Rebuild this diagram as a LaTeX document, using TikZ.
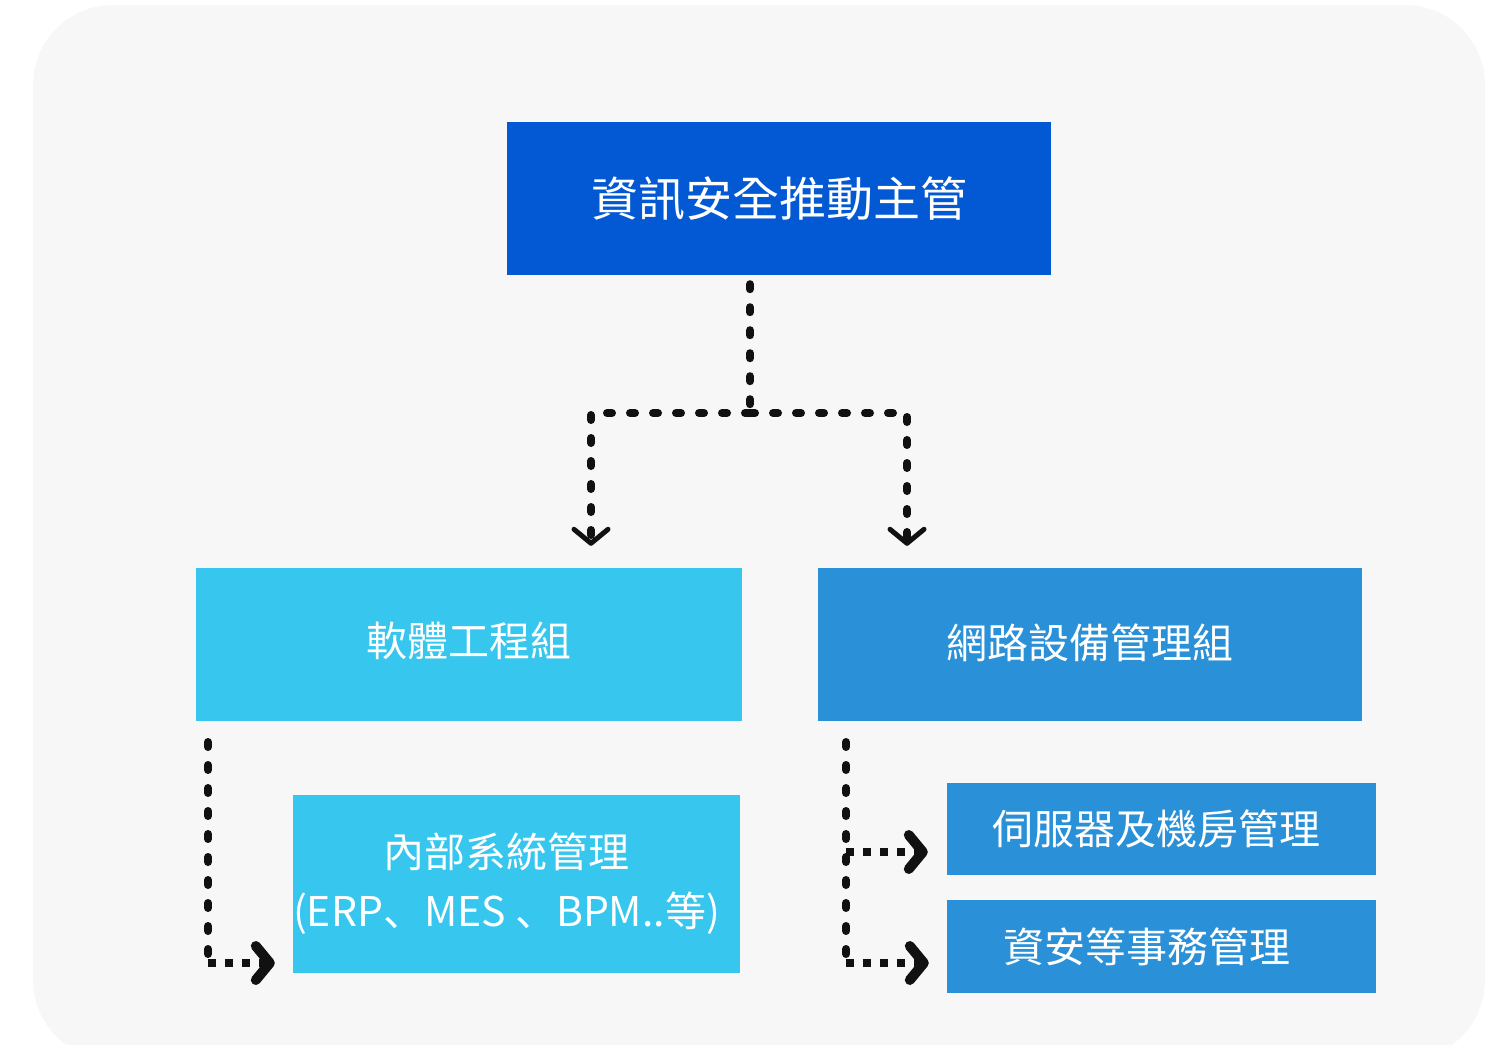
\documentclass[tikz,border=0pt]{standalone}
\usepackage{fontspec}
\setmainfont{Noto Sans CJK TC}
\newfontfamily\scfont{Noto Sans CJK SC}
\usetikzlibrary{arrows.meta}
\definecolor{bgc}{HTML}{F7F7F7}
\definecolor{topc}{HTML}{0358D4}
\definecolor{cyanc}{HTML}{36C6EE}
\definecolor{midc}{HTML}{2A90D7}
\definecolor{ink}{HTML}{111111}
\tikzset{
  box/.style={draw=none, inner sep=0pt, text=white, align=center},
  bigdash/.style={ink, line width=8pt, line cap=round, dash pattern=on 5pt off 18pt},
  smalldash/.style={ink, line width=8pt, line cap=butt, dash pattern=on 8pt off 9pt},
  opentip/.style={-{Straight Barb[length=14pt,width=34pt,line width=5pt,round]}},
  boldtip/.style={-{Straight Barb[length=14pt,width=34pt,line width=10pt,round]}},
}
\begin{document}
\begin{tikzpicture}[x=1pt,y=-1pt]
\useasboundingbox (0,0) rectangle (1495,1044);
\fill[bgc, rounded corners=80pt] (33,5) rectangle (1485,1060);
\node[box, fill=topc, minimum width=544pt, minimum height=153pt, font=\fontsize{47pt}{52pt}\selectfont] (top) at (779,198.5) {資訊安全推動主管};
\node[box, fill=cyanc, minimum width=546pt, minimum height=153pt, font=\fontsize{41pt}{46pt}\selectfont] (soft) at (469,644.5) {\raisebox{11pt}{軟體工程組}};
\node[box, fill=midc, minimum width=544pt, minimum height=153pt, font=\fontsize{41pt}{46pt}\selectfont] (net) at (1090,644.5) {\raisebox{7pt}{網路設備管理組}};
\node[box, fill=cyanc, minimum width=447pt, minimum height=178pt, font=\fontsize{41pt}{59pt}\selectfont] (inner) at (516.5,884) {\hspace*{-20pt}內部系統管理\\\hspace*{-20pt}{\scfont (ERP、MES 、BPM..等)}};
\node[box, fill=midc, minimum width=429pt, minimum height=92pt, font=\fontsize{41pt}{46pt}\selectfont] (server) at (1161.5,829) {\hspace*{-10pt}伺服器及機房管理};
\node[box, fill=midc, minimum width=429pt, minimum height=93pt, font=\fontsize{41pt}{46pt}\selectfont] (sec) at (1161.5,946.5) {\hspace*{-29pt}資安等事務管理};
% top connectors
\coordinate (j) at (750,413);
\coordinate (jl) at (591,413);
\coordinate (jr) at (907,413);
\draw[bigdash, shorten <=9pt] (top.south -| j) -- (j);
\draw[bigdash, opentip, shorten >=22pt] (j) -| (soft.north -| jl);
\draw[bigdash, opentip, shorten >=22pt] (j) -| (net.north -| jr);
% lower left
\coordinate (ls) at (208,742);
\coordinate (le) at (208,963);
\draw[bigdash] (ls) -- (le);
\draw[smalldash, boldtip, shorten >=18pt] (le) -- (inner.west |- le);
% lower right
\coordinate (rs) at (846,742);
\coordinate (rm) at (846,852);
\coordinate (re) at (846,963);
\draw[bigdash] (rs) -- (re);
\draw[smalldash, boldtip, shorten >=19pt] (rm) -- (server.west |- rm);
\draw[smalldash, boldtip, shorten >=18pt] (re) -- (sec.west |- re);
\end{tikzpicture}
\end{document}
